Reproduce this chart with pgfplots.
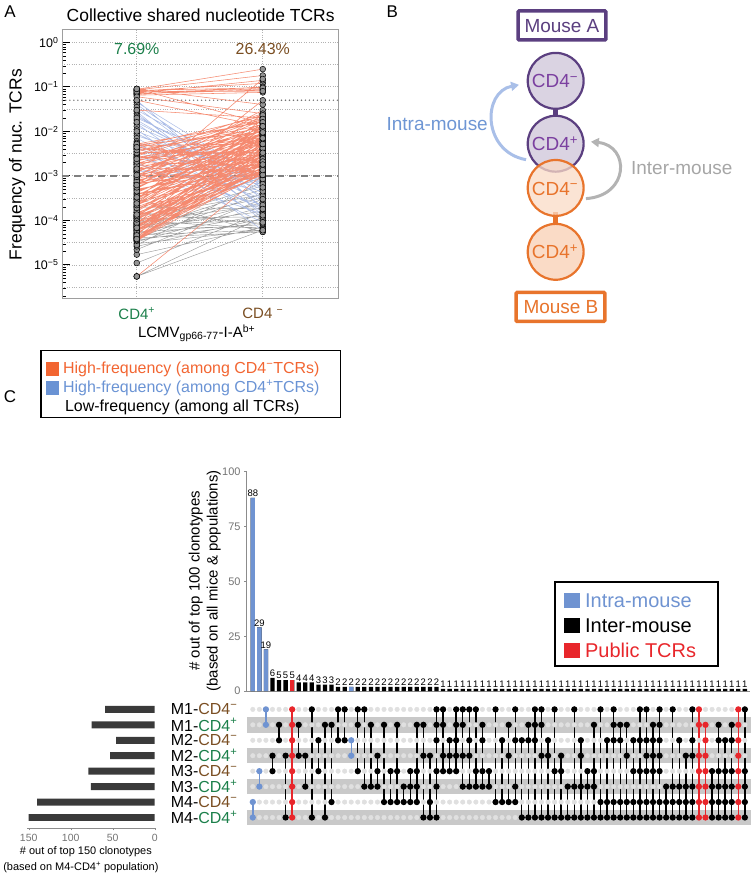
\documentclass[border=0pt]{standalone}
\usepackage{fontspec}
\setmainfont{Liberation Sans}
\usepackage{pgfplots}
\usepackage{pgfplotstable}
\pgfplotsset{compat=1.18}
\usetikzlibrary{arrows.meta}

\definecolor{cdgreen}{HTML}{1B7F4A}
\definecolor{cdbrown}{HTML}{7A4E22}
\definecolor{redline}{HTML}{F58A70}
\definecolor{blueline}{HTML}{A9BBE6}
\definecolor{grayline}{HTML}{9C9C9C}
\definecolor{legred}{HTML}{F26531}
\definecolor{legblue}{HTML}{6A93D4}
\definecolor{mpurple}{HTML}{5B3F80}
\definecolor{mpurpletext}{HTML}{7B40A0}
\definecolor{mpurplefill}{HTML}{DAD3E2}
\definecolor{morange}{HTML}{E8742C}
\definecolor{morangefill}{HTML}{FADBC6}
\definecolor{intrablue}{HTML}{A9BFE8}
\definecolor{intratext}{HTML}{6E96D4}
\definecolor{intergray}{HTML}{B3B3B3}
\definecolor{upblue}{HTML}{6F93D1}
\definecolor{upred}{HTML}{E8262B}
\definecolor{stripe}{HTML}{C9C9C9}
\definecolor{emptydot}{HTML}{E0E0E0}
\definecolor{setbar}{HTML}{3A3A3A}

\newcommand\fs[1]{\fontsize{#1}{#1}\selectfont}
\pgfplotsset{/pgf/number format/assume math mode=true}

% panel A: one segment per TCR, CD4+ (x=1) -> CD4- (x=2), nan breaks the line
\pgfplotstableread[row sep=\\]{x y\\
1 0.088\\2 0.25\\1 nan\\ 1 0.085\\2 0.18\\1 nan\\ 1 0.08\\2 0.12\\1 nan\\ 1 0.075\\2 0.09\\1 nan\\
1 0.07\\2 0.085\\1 nan\\ 1 0.068\\2 0.1\\1 nan\\ 1 0.065\\2 0.075\\1 nan\\ 1 0.072\\2 0.14\\1 nan\\
1 0.083\\2 0.095\\1 nan\\ 1 0.078\\2 0.08\\1 nan\\ 1 0.09\\2 0.04\\1 nan\\ 1 0.06\\2 0.025\\1 nan\\
1 0.05\\2 0.013\\1 nan\\ 1 0.03\\2 0.02\\1 nan\\ 1 0.09\\2 0.015\\1 nan\\ 1 6e-4\\2 0.15\\1 nan\\
1 3e-4\\2 0.05\\1 nan\\ 1 1e-3\\2 0.03\\1 nan\\ 1 5.5e-6\\2 1.05e-3\\1 nan\\
1 3.5e-5\\2 1.2e-3\\1 nan\\ 1 4e-5\\2 2e-3\\1 nan\\ 1 4.5e-5\\2 1.1e-3\\1 nan\\ 1 5e-5\\2 3e-3\\1 nan\\
1 6e-5\\2 1.5e-3\\1 nan\\ 1 7e-5\\2 4e-3\\1 nan\\ 1 8e-5\\2 1.3e-3\\1 nan\\ 1 9e-5\\2 2.5e-3\\1 nan\\
1 1e-4\\2 6e-3\\1 nan\\ 1 1.1e-4\\2 1.8e-3\\1 nan\\ 1 1.3e-4\\2 3.5e-3\\1 nan\\ 1 1.5e-4\\2 1.2e-3\\1 nan\\
1 1.7e-4\\2 8e-3\\1 nan\\ 1 2e-4\\2 2.2e-3\\1 nan\\ 1 2.3e-4\\2 5e-3\\1 nan\\ 1 2.6e-4\\2 1.4e-3\\1 nan\\
1 3e-4\\2 1.1e-2\\1 nan\\ 1 3.4e-4\\2 3e-3\\1 nan\\ 1 3.8e-4\\2 1.6e-3\\1 nan\\ 1 4.2e-4\\2 7e-3\\1 nan\\
1 4.7e-4\\2 2.6e-3\\1 nan\\ 1 5.2e-4\\2 1.3e-2\\1 nan\\ 1 5.8e-4\\2 4.5e-3\\1 nan\\ 1 6.5e-4\\2 1.9e-3\\1 nan\\
1 7.2e-4\\2 9e-3\\1 nan\\ 1 8e-4\\2 3.2e-3\\1 nan\\ 1 9e-4\\2 1.5e-2\\1 nan\\ 1 1e-3\\2 5.5e-3\\1 nan\\
1 1.1e-3\\2 2.1e-3\\1 nan\\ 1 1.25e-3\\2 1.2e-2\\1 nan\\ 1 1.4e-3\\2 4e-3\\1 nan\\ 1 1.6e-3\\2 2.4e-2\\1 nan\\
1 1.8e-3\\2 7.5e-3\\1 nan\\ 1 2e-3\\2 1.7e-3\\1 nan\\ 1 2.2e-3\\2 1e-2\\1 nan\\ 1 2.5e-3\\2 3.8e-3\\1 nan\\
1 2.8e-3\\2 2e-2\\1 nan\\ 1 3.1e-3\\2 6e-3\\1 nan\\ 1 3.5e-3\\2 1.4e-2\\1 nan\\ 1 4e-3\\2 2.8e-3\\1 nan\\
1 4.5e-3\\2 2.2e-2\\1 nan\\ 1 5e-3\\2 9.5e-3\\1 nan\\ 1 5.5e-3\\2 1.1e-3\\1 nan\\ 1 3e-3\\2 2.5e-2\\1 nan\\
1 1.5e-3\\2 1.3e-3\\1 nan\\ 1 7.5e-5\\2 1.05e-3\\1 nan\\ 1 1.2e-4\\2 1e-2\\1 nan\\ 1 2.5e-4\\2 1.8e-2\\1 nan\\
1 6e-4\\2 2.3e-2\\1 nan\\ 1 4.2e-5\\2 5e-3\\1 nan\\ 1 5.5e-5\\2 8e-3\\1 nan\\ 1 8.5e-5\\2 1.6e-2\\1 nan\\
1 1.8e-4\\2 4e-3\\1 nan\\ 1 3.2e-4\\2 6.5e-3\\1 nan\\ 1 4e-4\\2 1.2e-3\\1 nan\\ 1 9.5e-5\\2 1.35e-3\\1 nan\\
1 6.2e-5\\2 2.4e-3\\1 nan\\ 1 2.7e-3\\2 1.6e-3\\1 nan\\ 1 1.2e-3\\2 1.8e-2\\1 nan\\ 1 7e-4\\2 2.6e-3\\1 nan\\
1 3.7e-5\\2 2.8e-3\\1 nan\\ 1 4.8e-5\\2 6.5e-3\\1 nan\\ 1 1.4e-4\\2 2.9e-3\\1 nan\\ 1 2.1e-4\\2 1.25e-2\\1 nan\\
1 3.6e-4\\2 9.5e-3\\1 nan\\ 1 5e-4\\2 1.7e-3\\1 nan\\ 1 8.5e-4\\2 6e-3\\1 nan\\ 1 1.9e-3\\2 1.15e-2\\1 nan\\
1 2.3e-3\\2 4.8e-3\\1 nan\\ 1 4.2e-3\\2 1.7e-2\\1 nan\\
1 3.6e-5\\2 1.6e-3\\1 nan\\ 1 3.9e-5\\2 3.8e-3\\1 nan\\ 1 4.4e-5\\2 1.4e-3\\1 nan\\ 1 5.2e-5\\2 2.2e-3\\1 nan\\
1 5.8e-5\\2 1.1e-3\\1 nan\\ 1 6.6e-5\\2 3.3e-3\\1 nan\\ 1 7.2e-5\\2 5.5e-3\\1 nan\\ 1 7.8e-5\\2 2e-3\\1 nan\\
1 8.8e-5\\2 1.2e-3\\1 nan\\ 1 1.05e-4\\2 4.2e-3\\1 nan\\ 1 1.15e-4\\2 2.7e-3\\1 nan\\ 1 1.25e-4\\2 1.5e-3\\1 nan\\
1 1.6e-4\\2 5.8e-3\\1 nan\\ 1 1.9e-4\\2 1.05e-3\\1 nan\\ 1 2.2e-4\\2 3.3e-3\\1 nan\\ 1 2.8e-4\\2 7.8e-3\\1 nan\\
1 3.3e-4\\2 2e-3\\1 nan\\ 1 4.5e-4\\2 4.2e-3\\1 nan\\ 1 5.5e-4\\2 8.5e-3\\1 nan\\ 1 6.8e-4\\2 1.35e-3\\1 nan\\
1 7.6e-4\\2 5.2e-3\\1 nan\\ 1 9.5e-4\\2 2.9e-3\\1 nan\\ 1 1.05e-3\\2 1.05e-2\\1 nan\\ 1 1.35e-3\\2 7e-3\\1 nan\\
1 1.7e-3\\2 2.4e-3\\1 nan\\ 1 2.1e-3\\2 1.9e-2\\1 nan\\ 1 2.6e-3\\2 8e-3\\1 nan\\ 1 3.3e-3\\2 3.3e-3\\1 nan\\
1 3.8e-3\\2 1.2e-2\\1 nan\\ 1 4.8e-3\\2 5.2e-3\\1 nan\\ 1 5.2e-3\\2 1.6e-2\\1 nan\\ 1 4.4e-3\\2 2.1e-3\\1 nan\\
1 2.4e-3\\2 1.3e-2\\1 nan\\ 1 1.45e-3\\2 9e-3\\1 nan\\ 1 6.2e-4\\2 1.1e-2\\1 nan\\ 1 2.4e-4\\2 9e-3\\1 nan\\
1 1.35e-4\\2 7e-3\\1 nan\\ 1 6.8e-5\\2 9.5e-3\\1 nan\\ 1 4.6e-5\\2 1.3e-2\\1 nan\\ 1 3.8e-5\\2 1.8e-3\\1 nan\\
}\redA

\pgfplotstableread[row sep=\\]{x y\\
1 0.045\\2 8e-4\\1 nan\\ 1 0.04\\2 5e-4\\1 nan\\ 1 0.035\\2 3e-4\\1 nan\\ 1 0.03\\2 9e-4\\1 nan\\
1 0.025\\2 2e-4\\1 nan\\ 1 0.022\\2 6e-4\\1 nan\\ 1 0.018\\2 4e-4\\1 nan\\ 1 0.015\\2 1.5e-4\\1 nan\\
1 0.013\\2 7e-4\\1 nan\\ 1 0.011\\2 1e-4\\1 nan\\ 1 0.009\\2 3.5e-4\\1 nan\\ 1 0.008\\2 9.5e-4\\1 nan\\
1 0.007\\2 2.5e-4\\1 nan\\ 1 0.006\\2 6e-5\\1 nan\\ 1 0.005\\2 5e-4\\1 nan\\ 1 0.0045\\2 1.2e-4\\1 nan\\
1 0.004\\2 8e-4\\1 nan\\ 1 0.0035\\2 3e-4\\1 nan\\ 1 0.003\\2 1.8e-4\\1 nan\\ 1 0.0025\\2 7e-4\\1 nan\\
1 0.002\\2 9e-5\\1 nan\\ 1 0.0018\\2 4.5e-4\\1 nan\\ 1 0.0015\\2 2.2e-4\\1 nan\\ 1 0.0013\\2 6.5e-4\\1 nan\\
1 0.0012\\2 1.4e-4\\1 nan\\ 1 0.02\\2 1e-3\\1 nan\\ 1 0.01\\2 8.5e-4\\1 nan\\ 1 0.05\\2 1.8e-4\\1 nan\\
1 0.028\\2 1.3e-4\\1 nan\\ 1 0.016\\2 5.5e-4\\1 nan\\
}\blueA

\pgfplotstableread[row sep=\\]{x y\\
1 1.1e-5\\2 1.5e-4\\1 nan\\ 1 1.7e-5\\2 7e-5\\1 nan\\ 1 2.2e-5\\2 3e-4\\1 nan\\ 1 2.6e-5\\2 1.1e-4\\1 nan\\
1 3e-5\\2 6e-5\\1 nan\\ 1 3.3e-5\\2 2e-4\\1 nan\\ 1 3.6e-5\\2 9e-5\\1 nan\\ 1 4e-5\\2 4e-4\\1 nan\\
1 4.3e-5\\2 1.3e-4\\1 nan\\ 1 4.7e-5\\2 6e-5\\1 nan\\ 1 5e-5\\2 2.5e-4\\1 nan\\ 1 5.5e-5\\2 8e-5\\1 nan\\
1 6e-5\\2 5e-4\\1 nan\\ 1 6.5e-5\\2 1.6e-4\\1 nan\\ 1 7e-5\\2 7e-5\\1 nan\\ 1 7.5e-5\\2 3.2e-4\\1 nan\\
1 8e-5\\2 1e-4\\1 nan\\ 1 8.5e-5\\2 6e-4\\1 nan\\ 1 9e-5\\2 2.2e-4\\1 nan\\ 1 1e-4\\2 6.5e-5\\1 nan\\
1 1.1e-4\\2 1.2e-4\\1 nan\\ 1 1.2e-4\\2 3.8e-4\\1 nan\\ 1 1.5e-4\\2 8.5e-5\\1 nan\\ 1 2e-4\\2 1.8e-4\\1 nan\\
1 3e-4\\2 5.5e-5\\1 nan\\ 1 5.5e-6\\2 1.2e-4\\1 nan\\ 1 5.5e-6\\2 6e-5\\1 nan\\ 1 2.8e-5\\2 7.5e-4\\1 nan\\
1 1.3e-4\\2 9e-4\\1 nan\\ 1 4e-5\\2 5.5e-5\\1 nan\\
}\grayA

% panel C: intersection sizes, columns 1..76
\pgfplotstableread[row sep=\\]{i n\\
1 88\\2 29\\3 19\\4 6\\5 5\\6 5\\7 5\\8 4\\9 4\\10 4\\11 3\\12 3\\13 3\\
14 2\\15 2\\16 2\\17 2\\18 2\\19 2\\20 2\\21 2\\22 2\\23 2\\24 2\\25 2\\26 2\\27 2\\28 2\\29 2\\
30 1\\31 1\\32 1\\33 1\\34 1\\35 1\\36 1\\37 1\\38 1\\39 1\\40 1\\41 1\\42 1\\43 1\\44 1\\45 1\\
46 1\\47 1\\48 1\\49 1\\50 1\\51 1\\52 1\\53 1\\54 1\\55 1\\56 1\\57 1\\58 1\\59 1\\60 1\\61 1\\
62 1\\63 1\\64 1\\65 1\\66 1\\67 1\\68 1\\69 1\\70 1\\71 1\\72 1\\73 1\\74 1\\75 1\\76 1\\
}\bars
\pgfplotstableread[row sep=\\]{i n\\1 88\\2 29\\3 19\\16 2\\}\bluebars
\pgfplotstableread[row sep=\\]{i n\\7 5\\}\redbars

% set sizes, row 1 = M1-CD4-
\pgfplotstableread[row sep=\\]{r n\\1 59\\2 75\\3 46\\4 53\\5 79\\6 76\\7 140\\8 150\\}\setsizes

% matrix membership: column i, row r
\pgfplotstableread[row sep=\\]{i r\\
1 7\\1 8\\1 nan\\ 2 5\\2 6\\2 nan\\ 3 1\\3 2\\3 nan\\ 16 3\\16 4\\16 nan\\
}\bluedots
\pgfplotstableread[row sep=\\]{i r\\
7 1\\7 2\\7 3\\7 4\\7 5\\7 6\\7 7\\7 8\\7 nan\\
69 1\\69 2\\69 4\\69 5\\69 6\\69 7\\69 8\\69 nan\\
70 2\\70 3\\70 4\\70 5\\70 6\\70 7\\70 8\\70 nan\\
75 1\\75 2\\75 3\\75 4\\75 5\\75 6\\75 7\\75 8\\75 nan\\
}\reddots
\pgfplotstableread[row sep=\\]{i r\\
4 4\\4 5\\4 nan\\ 5 2\\5 3\\5 nan\\ 6 4\\6 8\\6 nan\\ 8 2\\8 4\\8 nan\\ 9 4\\9 6\\9 nan\\
10 1\\10 8\\10 nan\\ 11 3\\11 5\\11 nan\\ 12 2\\12 8\\12 nan\\ 13 2\\13 7\\13 nan\\
14 1\\14 3\\14 nan\\ 15 1\\15 3\\15 nan\\ 17 1\\17 2\\17 5\\17 nan\\ 18 1\\18 6\\18 nan\\
19 2\\19 6\\19 nan\\ 20 4\\20 5\\20 6\\20 nan\\ 21 2\\21 7\\21 nan\\ 22 5\\22 7\\22 nan\\
23 2\\23 5\\23 7\\23 nan\\ 24 6\\24 7\\24 nan\\ 25 5\\25 6\\25 7\\25 nan\\ 26 2\\26 5\\26 6\\26 7\\26 nan\\
27 2\\27 4\\27 8\\27 nan\\ 28 4\\28 7\\28 8\\28 nan\\ 29 1\\29 2\\29 3\\29 5\\29 6\\29 8\\29 nan\\
30 1\\30 2\\30 4\\30 5\\30 nan\\ 31 3\\31 4\\31 5\\31 nan\\ 32 1\\32 2\\32 3\\32 4\\32 5\\32 nan\\
33 1\\33 2\\33 4\\33 6\\33 nan\\ 34 1\\34 3\\34 4\\34 6\\34 nan\\ 35 1\\35 5\\35 6\\35 nan\\
36 2\\36 3\\36 5\\36 6\\36 nan\\ 37 5\\37 6\\37 nan\\ 38 1\\38 7\\38 nan\\ 39 3\\39 7\\39 nan\\
40 2\\40 4\\40 7\\40 nan\\ 41 1\\41 3\\41 6\\41 7\\41 nan\\ 42 3\\42 8\\42 nan\\ 43 2\\43 3\\43 8\\43 nan\\
44 1\\44 2\\44 3\\44 8\\44 nan\\ 45 1\\45 2\\45 4\\45 8\\45 nan\\ 46 3\\46 4\\46 8\\46 nan\\
47 1\\47 5\\47 8\\47 nan\\ 48 4\\48 5\\48 8\\48 nan\\ 49 6\\49 8\\49 nan\\ 50 1\\50 6\\50 8\\50 nan\\
51 3\\51 4\\51 6\\51 8\\51 nan\\ 52 5\\52 6\\52 8\\52 nan\\ 53 2\\53 5\\53 6\\53 8\\53 nan\\
54 1\\54 7\\54 8\\54 nan\\ 55 3\\55 7\\55 8\\55 nan\\ 56 1\\56 2\\56 3\\56 7\\56 8\\56 nan\\
57 2\\57 3\\57 7\\57 8\\57 nan\\ 58 2\\58 4\\58 7\\58 8\\58 nan\\ 59 3\\59 5\\59 7\\59 8\\59 nan\\
60 1\\60 3\\60 5\\60 7\\60 8\\60 nan\\ 61 1\\61 3\\61 4\\61 5\\61 7\\61 8\\61 nan\\
62 2\\62 3\\62 4\\62 5\\62 7\\62 8\\62 nan\\ 63 1\\63 2\\63 3\\63 4\\63 5\\63 7\\63 8\\63 nan\\
64 6\\64 7\\64 8\\64 nan\\ 65 1\\65 6\\65 7\\65 8\\65 nan\\ 66 3\\66 6\\66 7\\66 8\\66 nan\\
67 4\\67 6\\67 7\\67 8\\67 nan\\ 68 1\\68 3\\68 4\\68 6\\68 7\\68 8\\68 nan\\
71 5\\71 6\\71 7\\71 8\\71 nan\\ 72 2\\72 3\\72 5\\72 6\\72 7\\72 8\\72 nan\\
73 3\\73 5\\73 6\\73 7\\73 8\\73 nan\\ 74 2\\74 3\\74 5\\74 6\\74 7\\74 8\\74 nan\\
76 1\\76 5\\76 6\\76 7\\76 8\\76 nan\\
}\blackdots

\begin{document}
\begin{tikzpicture}[x=1pt,y=-1pt]
\path (0,0) rectangle (752,876);

% ---------------- panel A ----------------
\node[font=\fs{17}] at (9,12) {A};
\node[font=\fs{17.5}] at (200,15) {Collective shared nucleotide TCRs};
\node[rotate=90, font=\fs{17.5}] at (16,165) {Frequency of nuc. TCRs};

\begin{axis}[
  at={(61pt,-29pt)}, anchor=north west, scale only axis, width=277pt, height=270pt,
  ymode=log, xmin=0.406, xmax=2.6, ymin=1.76e-6, ymax=2,
  axis line style={draw=black!38},
  xtick={1,2},
  xticklabels={\textcolor{cdgreen}{CD4\textsuperscript{+}}, \textcolor{cdbrown}{CD4 \textsuperscript{−}}},
  xticklabel style={font=\fs{15}, yshift=-6pt},
  x tick style={draw=none},
  ytick={1e-5,1e-4,1e-3,1e-2,1e-1,1},
  yticklabels={10\textsuperscript{−5},10\textsuperscript{−4},10\textsuperscript{−3},10\textsuperscript{−2},10\textsuperscript{−1},10\textsuperscript{0}},
  minor ytick={2e-6,3e-6,4e-6,5e-6,6e-6,7e-6,8e-6,9e-6,
    2e-5,3e-5,4e-5,5e-5,6e-5,7e-5,8e-5,9e-5,
    2e-4,3e-4,4e-4,5e-4,6e-4,7e-4,8e-4,9e-4,
    2e-3,3e-3,4e-3,5e-3,6e-3,7e-3,8e-3,9e-3,
    0.02,0.03,0.04,0.05,0.06,0.07,0.08,0.09,
    0.2,0.3,0.4,0.5,0.6,0.7,0.8,0.9,2},
  yticklabel style={font=\fs{12.5}},
  ytick pos=left, tick align=inside,
  y tick style={black}, major tick length=8pt, minor tick length=4pt,
  major tick style={line width=1.1pt},
  xmajorgrids, ymajorgrids,
  grid style={dotted, black!30, line width=0.7pt},
  extra y ticks={3.16e-6,3.16e-5,3.16e-4,3.16e-3,3.16e-2,0.316},
  extra y tick labels={},
  extra y tick style={major tick length=0pt, grid=major},
  unbounded coords=jump,
]
\addplot[black!55, line width=1.6pt, line cap=round, dash pattern=on 0pt off 4pt] coordinates {(0.406,0.05) (2.6,0.05)};
\addplot[black!50, dash pattern=on 7pt off 5pt, line width=1.4pt] coordinates {(0.406,1e-3) (2.6,1e-3)};
\addplot[grayline, line width=0.45pt] table[x=x,y=y] {\grayA};
\addplot[blueline, line width=0.5pt] table[x=x,y=y] {\blueA};
\addplot[redline, line width=0.55pt] table[x=x,y=y] {\redA};
\addplot[only marks, mark=*, mark size=2.9pt, mark options={fill=black!42, draw=black, line width=0.5pt}] table[x=x,y=y] {\grayA};
\addplot[only marks, mark=*, mark size=2.9pt, mark options={fill=black!42, draw=black, line width=0.5pt}] table[x=x,y=y] {\blueA};
\addplot[only marks, mark=*, mark size=2.9pt, mark options={fill=black!42, draw=black, line width=0.5pt}] table[x=x,y=y] {\redA};
\node[text=cdgreen, font=\fs{16}] at (axis cs:1,0.71) {7.69\%};
\node[text=cdbrown, font=\fs{16}] at (axis cs:2,0.71) {26.43\%};
\end{axis}

\node[font=\fs{15}] at (196,334) {LCMV\textsubscript{gp66-77}-I-A\textsuperscript{b+}};

% legend A
\draw[line width=1.2pt] (40,351) rectangle (340,418);
\fill[legred] (45,363) rectangle (58,377);
\fill[legblue] (45,382) rectangle (58,396);
\node[anchor=west, text=legred, font=\fs{16}, inner sep=0pt] at (62,370) {High-frequency (among CD4\textsuperscript{−}TCRs)};
\node[anchor=west, text=legblue, font=\fs{16}, inner sep=0pt] at (62,389) {High-frequency (among CD4\textsuperscript{+}TCRs)};
\node[anchor=west, font=\fs{16}, inner sep=0pt] at (64,408) {Low-frequency (among all TCRs)};

% ---------------- panel B ----------------
\node[font=\fs{17}] at (392,12) {B};
\draw[mpurple, line width=3.5pt, rounded corners=1pt, fill=white] (518,11) rectangle (606,40);
\node[text=mpurple, font=\fs{19}] at (562,26) {Mouse A};
\fill[mpurple] (553.5,105) rectangle (558,120);
\fill[morange] (553.5,212) rectangle (558,228);
\draw[mpurple, line width=2.2pt, fill=mpurplefill] (555.7,81) circle[radius=28pt];
\draw[mpurple, line width=2.2pt, fill=mpurplefill] (555.7,144) circle[radius=28pt];
\draw[morange, line width=2.2pt, fill=morangefill, fill opacity=0.75] (555.7,188.3) circle[radius=28pt];
\draw[morange, line width=2.2pt, fill=morangefill] (555.7,252.3) circle[radius=28pt];
\node[text=mpurpletext, font=\fs{19}] at (555,81) {CD4\textsuperscript{−}};
\node[text=mpurpletext, font=\fs{19}] at (555,144) {CD4\textsuperscript{+}};
\node[text=morange, font=\fs{19}] at (555,189) {CD4\textsuperscript{−}};
\node[text=morange, font=\fs{19}] at (555,252) {CD4\textsuperscript{+}};
\draw[intrablue, line width=3pt, -{Triangle[length=8pt,width=9pt]}] (526,160) .. controls (482,152) and (482,92) .. (519,85);
\draw[intergray, line width=3pt, -{Triangle[length=8pt,width=9pt]}] (586,199) .. controls (630,196) and (630,146) .. (591,142);
\node[text=intratext, font=\fs{19}] at (437,124) {Intra-mouse};
\node[text=black!35, font=\fs{19}] at (682,168) {Inter-mouse};
\draw[morange, line width=3.5pt, rounded corners=1pt, fill=white] (516,293) rectangle (605,322);
\node[text=morange, font=\fs{19}] at (561,307.5) {Mouse B};

% ---------------- panel C ----------------
\node[font=\fs{17}] at (9,397) {C};
\node[rotate=90, font=\fs{15}] at (195,582) {\# out of top 100 clonotypes};
\node[rotate=90, font=\fs{15}] at (213,582) {(based on all mice \& populations)};

\begin{axis}[
  at={(246pt,-472.3pt)}, anchor=north west, scale only axis, width=504.5pt, height=220.2pt,
  xmin=0.05, xmax=76.8, ymin=0, ymax=100,
  axis x line=bottom, axis y line=left,
  axis line style={-, draw=black!45, line width=0.6pt},
  xtick=\empty, ytick={0,25,50,75,100},
  yticklabel style={font=\fs{11}, text=black!55},
  y tick style={black!45}, tick align=outside, major tick length=2.5pt,
  clip=false,
]
\addplot[ybar, bar width=4.3pt, bar shift=0pt, fill=black, draw=none,
  nodes near coords, nodes near coords style={font=\fs{9.5}, text=black, inner sep=1pt}]
  table[x=i,y=n] {\bars};
\addplot[ybar, bar width=4.3pt, bar shift=0pt, fill=upblue, draw=none] table[x=i,y=n] {\bluebars};
\addplot[ybar, bar width=4.3pt, bar shift=0pt, fill=upred, draw=none] table[x=i,y=n] {\redbars};
\end{axis}

\begin{axis}[
  at={(246pt,-703pt)}, anchor=north west, scale only axis, width=504.5pt, height=123.8pt,
  xmin=0.05, xmax=76.8, ymin=0.5, ymax=8.5, y dir=reverse, hide axis, clip=false,
  unbounded coords=jump,
]
\fill[stripe] (axis cs:0.05,1.5) rectangle (axis cs:77.0,2.5);
\fill[stripe] (axis cs:0.05,3.5) rectangle (axis cs:77.0,4.5);
\fill[stripe] (axis cs:0.05,5.5) rectangle (axis cs:77.0,6.5);
\fill[stripe] (axis cs:0.05,7.5) rectangle (axis cs:77.0,8.5);
\pgfplotsinvokeforeach{1,...,8}{
  \addplot[only marks, mark=*, mark size=2.3pt, color=emptydot] table[x=i, y expr=#1] {\bars};
}
\addplot[black, line width=1.4pt, mark=*, mark size=2.4pt] table[x=i,y=r] {\blackdots};
\addplot[upblue, line width=1.4pt, mark=*, mark size=2.4pt] table[x=i,y=r] {\bluedots};
\addplot[upred, line width=1.4pt, mark=*, mark size=2.4pt] table[x=i,y=r] {\reddots};
\end{axis}

\begin{axis}[
  at={(26pt,-703pt)}, anchor=north west, scale only axis, width=128pt, height=126.9pt,
  xmin=0, xmax=152, ymin=0.3, ymax=8.5, x dir=reverse,
  axis x line=bottom, axis y line=none,
  axis line style={-, draw=black!45, line width=0.6pt},
  xtick={0,50,100,150}, xticklabel style={font=\fs{10.5}, text=black!55},
  x tick style={black!45}, tick align=outside, major tick length=2pt,
]
\addplot[xbar, bar width=7pt, bar shift=0pt, fill=setbar, draw=none] table[x=n, y expr={9-\thisrow{r}}] {\setsizes};
\end{axis}

\node[anchor=east, font=\fs{16}, inner sep=0pt] at (237,710.7) {M1-\textcolor{cdbrown}{CD4\textsuperscript{−}}};
\node[anchor=east, font=\fs{16}, inner sep=0pt] at (237,726.2) {M1-\textcolor{cdgreen}{CD4\textsuperscript{+}}};
\node[anchor=east, font=\fs{16}, inner sep=0pt] at (237,741.6) {M2-\textcolor{cdbrown}{CD4\textsuperscript{−}}};
\node[anchor=east, font=\fs{16}, inner sep=0pt] at (237,757.1) {M2-\textcolor{cdgreen}{CD4\textsuperscript{+}}};
\node[anchor=east, font=\fs{16}, inner sep=0pt] at (237,772.6) {M3-\textcolor{cdbrown}{CD4\textsuperscript{−}}};
\node[anchor=east, font=\fs{16}, inner sep=0pt] at (237,788.1) {M3-\textcolor{cdgreen}{CD4\textsuperscript{+}}};
\node[anchor=east, font=\fs{16}, inner sep=0pt] at (237,803.5) {M4-\textcolor{cdbrown}{CD4\textsuperscript{−}}};
\node[anchor=east, font=\fs{16}, inner sep=0pt] at (237,819.0) {M4-\textcolor{cdgreen}{CD4\textsuperscript{+}}};

\node[font=\fs{11}] at (85,853) {\# out of top 150 clonotypes};
\node[font=\fs{11}] at (80,869) {(based on M4-CD4\textsuperscript{+} population)};

% legend C
\draw[line width=2pt] (555,583) rectangle (718,667);
\fill[upblue] (564,594) rectangle (580,609);
\fill[black] (564,619) rectangle (580,634);
\fill[upred] (564,644) rectangle (580,659);
\node[anchor=west, text=upblue, font=\fs{20}, inner sep=0pt] at (585,601.5) {Intra-mouse};
\node[anchor=west, font=\fs{20}, inner sep=0pt] at (585,626.5) {Inter-mouse};
\node[anchor=west, text=upred, font=\fs{20}, inner sep=0pt] at (585,651.5) {Public TCRs};
\end{tikzpicture}
\end{document}
